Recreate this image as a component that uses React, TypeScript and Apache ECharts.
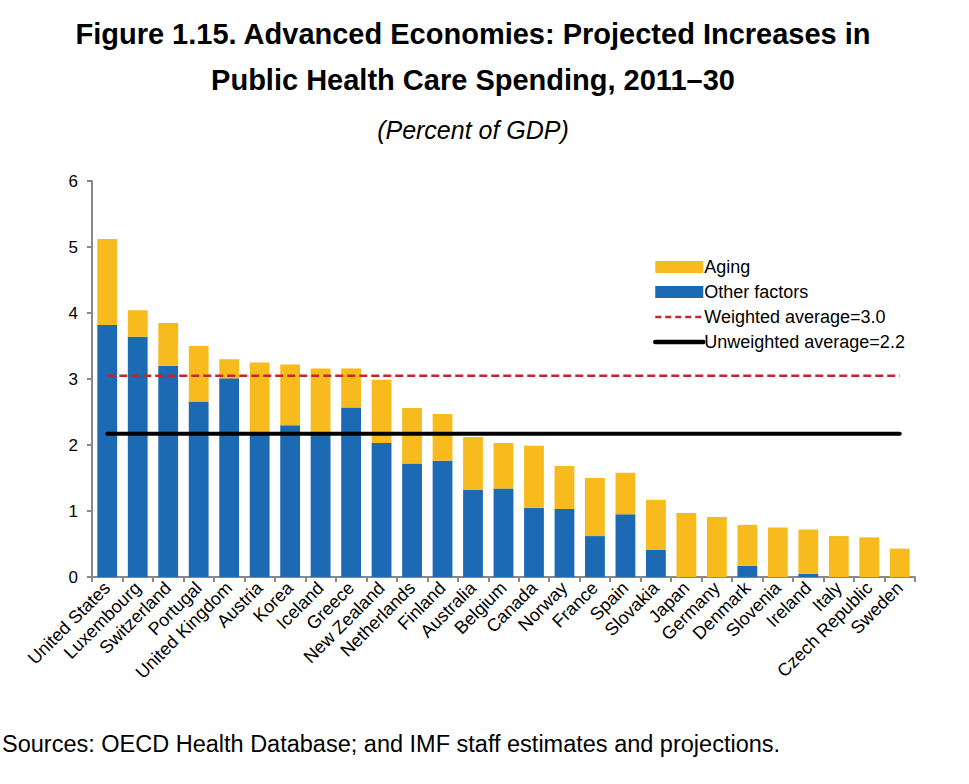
import React, { useEffect, useRef } from "react";
import * as echarts from "echarts";

const countries = [
  "United States", "Luxembourg", "Switzerland", "Portugal", "United Kingdom", "Austria",
  "Korea", "Iceland", "Greece", "New Zealand", "Netherlands", "Finland", "Australia",
  "Belgium", "Canada", "Norway", "France", "Spain", "Slovakia", "Japan", "Germany",
  "Denmark", "Slovenia", "Ireland", "Italy", "Czech Republic", "Sweden",
];
const otherFactors = [
  3.82, 3.64, 3.20, 2.66, 3.01, 2.18, 2.30, 2.18, 2.57, 2.03, 1.72, 1.76, 1.32,
  1.34, 1.05, 1.03, 0.62, 0.95, 0.41, 0, 0, 0.17, 0, 0.05, 0, 0, 0,
];
const aging = [
  1.30, 0.40, 0.65, 0.84, 0.29, 1.07, 0.92, 0.98, 0.59, 0.96, 0.84, 0.71, 0.80,
  0.69, 0.94, 0.65, 0.88, 0.63, 0.76, 0.97, 0.91, 0.62, 0.75, 0.67, 0.62, 0.60, 0.43,
];
const weightedAverage = 3.05;
const unweightedAverage = 2.17;
const yTicks = [0, 6, 1];

const FONT = '"Liberation Sans", Arial, sans-serif';
const BLUE = "#1D6AB4";
const YELLOW = "#F7BB1E";
const RED = "#C1272D";
const CLEAR = "rgba(0,0,0,0)";

export default function App() {
  const ref = useRef<HTMLDivElement>(null);
  useEffect(() => {
    const chart = echarts.init(ref.current!, null, { renderer: "svg" });
    const last = countries.length - 1;
    chart.setOption({
      animation: false,
      backgroundColor: "#fff",
      textStyle: { fontFamily: FONT },
      graphic: [
        { type: "text", x: 473, y: 34, style: { text: "Figure 1.15. Advanced Economies: Projected Increases in", font: `bold 29px ${FONT}`, fill: "#000", textAlign: "center", textVerticalAlign: "middle" } },
        { type: "text", x: 473, y: 80, style: { text: "Public Health Care Spending, 2011–30", font: `bold 29px ${FONT}`, fill: "#000", textAlign: "center", textVerticalAlign: "middle" } },
        { type: "text", x: 473, y: 130, style: { text: "(Percent of GDP)", font: `italic 25px ${FONT}`, fill: "#000", textAlign: "center", textVerticalAlign: "middle" } },
        { type: "text", x: 2, y: 744, style: { text: "Sources: OECD Health Database; and IMF staff estimates and projections.", font: `23.5px ${FONT}`, fill: "#000", textAlign: "left", textVerticalAlign: "middle" } },
      ],
      legend: {
        orient: "vertical",
        left: 648,
        top: 253,
        itemWidth: 48,
        itemHeight: 12,
        itemGap: 7,
        textStyle: { fontSize: 18, lineHeight: 18, color: "#000", fontFamily: FONT, padding: [0, 0, 0, -4] },
        data: [
          { name: "Aging", icon: "rect" },
          { name: "Other factors", icon: "rect" },
          { name: "Weighted average=3.0", itemStyle: { color: CLEAR, opacity: 0 }, lineStyle: { color: RED, width: 2.5, type: [6, 4] } },
          { name: "Unweighted average=2.2", itemStyle: { color: CLEAR, opacity: 0 }, lineStyle: { color: "#000", width: 4.5 } },
        ],
      },
      grid: { left: 92, right: 54, top: 181, bottom: 207 },
      xAxis: {
        type: "category",
        data: countries,
        boundaryGap: true,
        axisLine: { lineStyle: { color: "#888", width: 2 } },
        axisTick: { show: true, length: 5, lineStyle: { color: "#888", width: 2 } },
        axisLabel: { interval: 0, rotate: 45, fontSize: 18, color: "#000", margin: 8, fontFamily: FONT },
        splitLine: { show: false },
      },
      yAxis: {
        type: "value",
        min: yTicks[0],
        max: yTicks[1],
        interval: yTicks[2],
        axisLine: { show: true, lineStyle: { color: "#888", width: 2 } },
        axisTick: { show: true, length: 5, lineStyle: { color: "#888", width: 2 } },
        axisLabel: { fontSize: 17, color: "#000", margin: 14, fontFamily: FONT },
        splitLine: { show: false },
      },
      series: [
        { name: "Other factors", type: "bar", stack: "t", data: otherFactors, barWidth: "65%", itemStyle: { color: BLUE } },
        { name: "Aging", type: "bar", stack: "t", data: aging, barWidth: "65%", itemStyle: { color: YELLOW } },
        {
          name: "Weighted average=3.0", type: "line", symbol: "none",
          data: [[0, weightedAverage], [last, weightedAverage]],
          itemStyle: { color: CLEAR },
          lineStyle: { color: RED, width: 2.5, type: [8, 4] }, z: 5,
        },
        {
          name: "Unweighted average=2.2", type: "line", symbol: "none",
          data: [[0, unweightedAverage], [last, unweightedAverage]],
          itemStyle: { color: CLEAR },
          lineStyle: { color: "#000", width: 4, cap: "round" }, z: 5,
        },
      ],
    });
    return () => chart.dispose();
  }, []);
  return <div ref={ref} style={{ position: "fixed", left: 0, top: 0, width: 969, height: 784 }} />;
}
